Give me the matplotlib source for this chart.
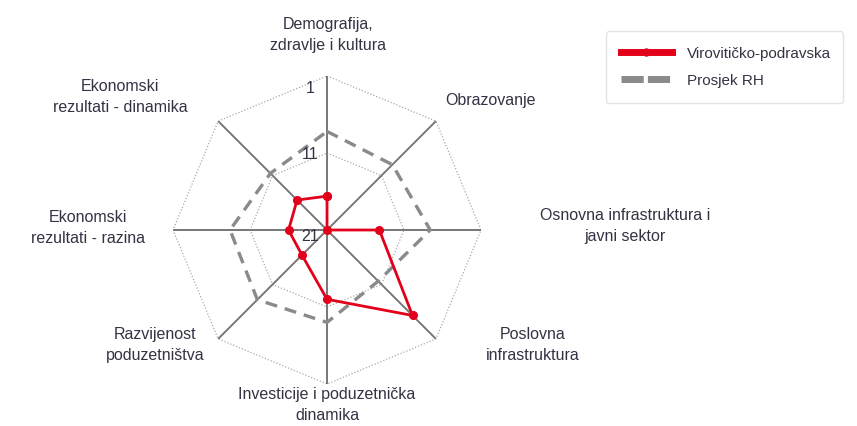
import numpy as np
import matplotlib
matplotlib.use("Agg")
import matplotlib.pyplot as plt
from matplotlib.lines import Line2D

categories = [
    "Demografija,\nzdravlje i kultura",
    "Obrazovanje",
    "Osnovna infrastruktura i\njavni sektor",
    "Poslovna\ninfrastruktura",
    "Investicije i poduzetnička\ndinamika",
    "Razvijenost\npoduzetništva",
    "Ekonomski\nrezultati - razina",
    "Ekonomski\nrezultati - dinamika",
]
county_rank = [16.6, 21, 14.2, 5.3, 12, 16.4, 16, 15.5]
average_rank = [8.2, 9, 7.6, 11.6, 9, 8.2, 8.4, 10.6]
rank_ticks = [1, 11, 21]
series_names = ["Virovitičko-podravska", "Prosjek RH"]

RED = "#e2001a"
GREY = "#8a8a8a"
TEXT = "#333344"

plt.rcParams["font.family"] = ["Liberation Sans", "DejaVu Sans"]
plt.rcParams["font.size"] = 11.5

fig = plt.figure(figsize=(8.57, 4.26), dpi=100)
ax = fig.add_axes([0.2019, 0.0986, 0.3594, 0.723], projection="polar")
ax.set_theta_offset(np.pi / 2)
ax.set_theta_direction(-1)
ax.set_ylim(21, 1)
ax.grid(False)
ax.set_xticks([])
ax.set_yticks([])
ax.spines["polar"].set_visible(False)
ax.patch.set_alpha(0)

n = len(categories)
theta = np.linspace(0, 2 * np.pi, n, endpoint=False)
closed = np.append(theta, theta[0])

# octagonal grid
for r in rank_ticks[:2]:
    ax.plot(closed, [r] * (n + 1), color="#aaaaaa", lw=0.9, ls=(0, (1, 1.5)), zorder=1)
for t in theta:
    ax.plot([t, t], [21, 1], color="#777777", lw=1.4, zorder=2)

ax.plot(closed, average_rank + average_rank[:1], color=GREY, lw=2.4,
        ls=(0, (3.6, 2.4)), zorder=3)
ax.plot(closed, county_rank + county_rank[:1], color=RED, lw=2.0,
        marker="o", markersize=5.5, zorder=4)

for r, dy in zip(rank_ticks, [-13, -2, -7]):
    ax.annotate(str(r), xy=(0, r), xytext=(-17, dy), textcoords="offset pixels",
                ha="center", va="center", color=TEXT, fontsize=11.5)

label_px = [(328, 35), (490, 100), (625, 226), (533, 345), (327, 405),
            (155, 345), (88, 228), (120, 97)]
W, H = 857, 426
for text, (px, py) in zip(categories, label_px):
    fig.text(px / W, 1 - py / H, text, ha="center", va="center",
             color=TEXT, fontsize=11.5, linespacing=1.45)

handles = [
    Line2D([], [], color=RED, lw=5, marker="o", markersize=5),
    Line2D([], [], color=GREY, lw=5, ls=(0, (3.2, 0.6))),
]
leg = fig.legend(handles, series_names, loc="upper left",
                 bbox_to_anchor=(0.698, 0.754, 0.295, 0.19), mode="expand",
                 fontsize=11, frameon=True, fancybox=True, handlelength=3.3,
                 labelspacing=0.85, borderpad=1.0, handletextpad=1.0)
leg.get_frame().set_edgecolor("#dddddd")
leg.get_frame().set_linewidth(1.0)
for t in leg.get_texts():
    t.set_color(TEXT)

fig.savefig("out.png", dpi=100)
